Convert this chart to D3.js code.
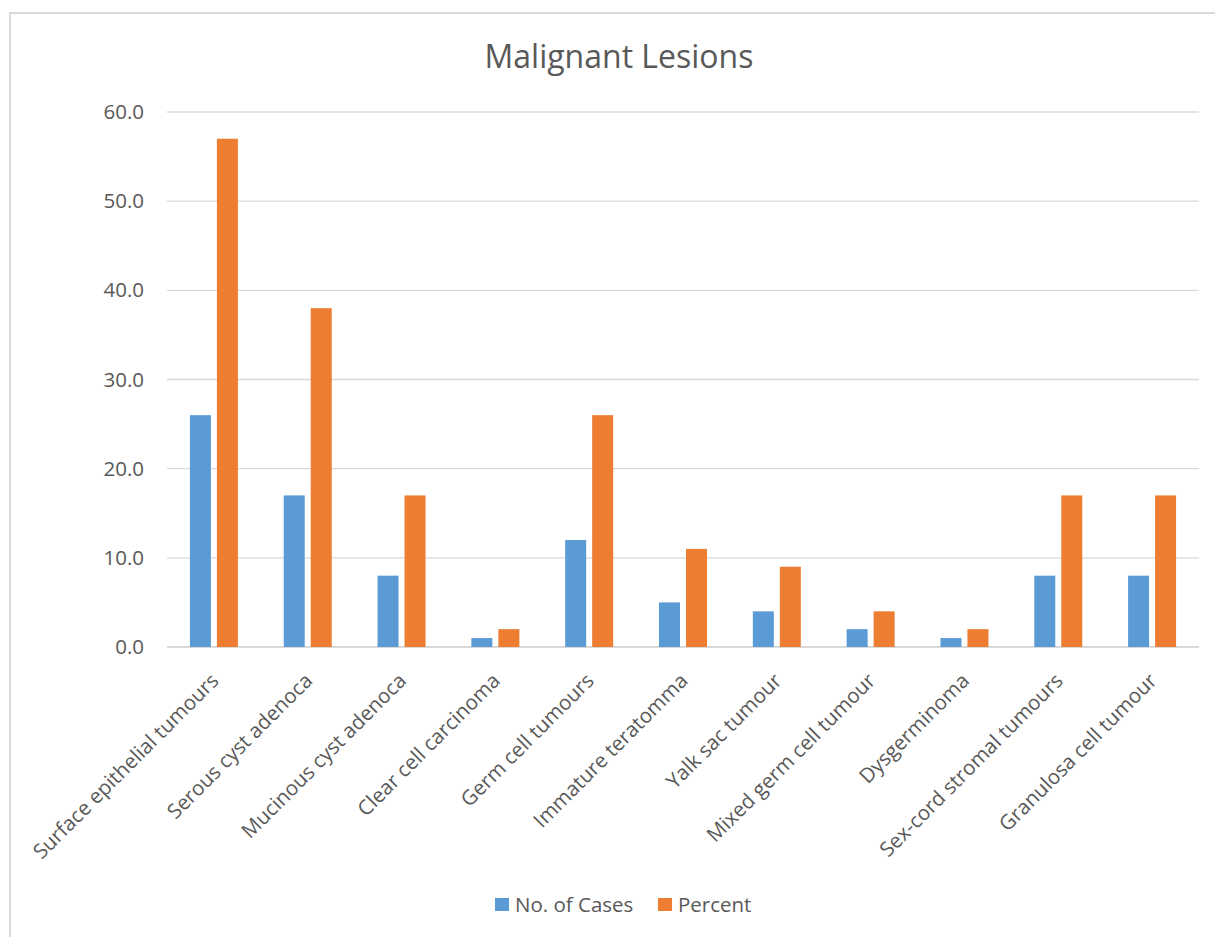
<!DOCTYPE html>
<html>
<head>
<meta charset="utf-8">
<script src="https://cdn.jsdelivr.net/npm/d3@7"></script>
<style>
  html, body { margin: 0; padding: 0; background: #fff; }
  svg { display: block; }
  text { font-family: "Open Sans", "Noto Sans", sans-serif; fill: #595959; }
</style>
</head>
<body>
<svg id="chart" width="1215" height="937"></svg>
<script>
const categories = [
  "Surface epithelial tumours", "Serous cyst adenoca", "Mucinous cyst adenoca",
  "Clear cell carcinoma", "Germ cell tumours", "Immature teratomma",
  "Yalk sac tumour", "Mixed germ cell tumour", "Dysgerminoma",
  "Sex-cord stromal tumours", "Granulosa cell tumour"
];
const seriesNames = ["No. of Cases", "Percent"];
const cases = [26, 17, 8, 1, 12, 5, 4, 2, 1, 8, 8];
const percent = [57, 38, 17, 2, 26, 11, 9, 4, 2, 17, 17];
const yTicks = [0, 10, 20, 30, 40, 50, 60];
const colors = ["#5B9BD5", "#ED7D31"];
const title = "Malignant Lesions";

const svg = d3.select("#chart");
const W = 1215, H = 937;
const m = { left: 167, right: 1199, top: 112, bottom: 647 };

// chart border
svg.append("rect").attr("x", 10).attr("y", 13).attr("width", W + 10).attr("height", H + 10)
  .attr("fill", "none").attr("stroke", "#d9d9d9").attr("stroke-width", 2);

const x = d3.scaleBand().domain(categories).range([m.left, m.right]).paddingInner(0).paddingOuter(0);
const y = d3.scaleLinear().domain([0, 60]).range([m.bottom, m.top]);
const barW = 21, gap = 6;

// gridlines
svg.append("g").selectAll("line").data(yTicks).join("line")
  .attr("x1", m.left).attr("x2", m.right)
  .attr("y1", d => y(d)).attr("y2", d => y(d))
  .attr("stroke", "#d9d9d9").attr("stroke-width", d => d === 0 ? 2 : 1.3);

// y axis labels
const yAxis = d3.axisLeft(y).tickValues(yTicks).tickFormat(d3.format(".1f")).tickSize(0).tickPadding(0);
const yg = svg.append("g").attr("transform", `translate(144,0)`).call(yAxis);
yg.select(".domain").remove();
yg.selectAll("text").attr("font-size", 20.5).attr("fill", "#595959")
  .style("font-family", '"Open Sans", sans-serif');

// bars
const data = categories.map((c, i) => ({ c, vals: [cases[i], percent[i]] }));
const groups = svg.append("g").selectAll("g").data(data).join("g")
  .attr("transform", d => `translate(${x(d.c) + x.bandwidth() / 2},0)`);
groups.selectAll("rect").data(d => d.vals.map((v, k) => ({ v, k }))).join("rect")
  .attr("x", d => d.k === 0 ? -(barW + gap / 2) : gap / 2)
  .attr("width", barW)
  .attr("y", d => y(d.v))
  .attr("height", d => y(0) - y(d.v))
  .attr("fill", d => colors[d.k]);

// x axis labels
const xAxis = d3.axisBottom(x).tickSize(0).tickPadding(0);
const xg = svg.append("g").attr("transform", `translate(0,${m.bottom})`).call(xAxis);
xg.select(".domain").remove();
xg.selectAll("text")
  .attr("font-size", 20.5).attr("fill", "#595959")
  .style("font-family", '"Open Sans", sans-serif')
  .attr("text-anchor", "end")
  .attr("dy", null).attr("y", 0)
  .attr("transform", "translate(6,35) rotate(-45)");

// title
svg.append("text").attr("x", 619).attr("y", 68).attr("text-anchor", "middle")
  .attr("font-size", 32).text(title);

// legend
const legend = svg.append("g");
const lx = [495, 658];
seriesNames.forEach((s, i) => {
  legend.append("rect").attr("x", lx[i]).attr("y", 898).attr("width", 14).attr("height", 13).attr("fill", colors[i]);
  legend.append("text").attr("x", lx[i] + 20).attr("y", 912).attr("font-size", 20.5).text(s);
});
</script>
</body>
</html>
